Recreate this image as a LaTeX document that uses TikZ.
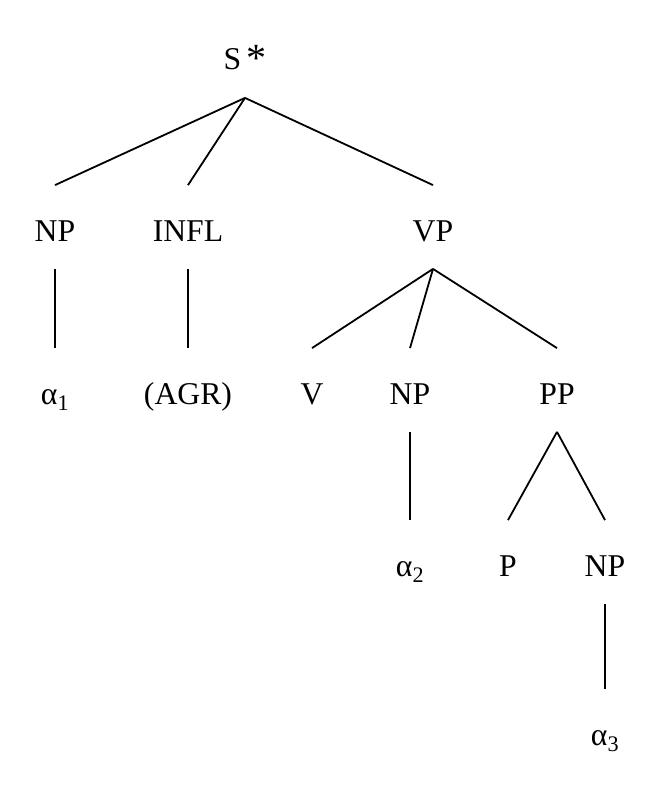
\documentclass[tikz,border=0pt]{standalone}
\usepackage{fontspec}
\setmainfont{Liberation Serif}
\usetikzlibrary{positioning}
\tikzset{cat/.style={anchor=base,inner sep=0pt,text height=55pt,text depth=27pt,
    font=\fontsize{31.7}{38}\selectfont}}
\begin{document}
\begin{tikzpicture}[x=1pt,y=-1pt,line width=1.8pt]
      \useasboundingbox (0,0) rectangle (661,786);
      % nodes, row by row
      \node[cat] (S) at (245,70) {S\,\raisebox{-2pt}{\fontsize{40}{40}\selectfont *}};
      \node[cat] (NPa) at (55,241) {NP};
      \node[cat] (INFL) at (188,241) {INFL};
      \node[cat] (VP) at (433,241) {VP};
      \node[cat] (aa) at (55,404) {α\textsubscript{1}};
      \node[cat] (AGR) at (188,404) {(AGR)};
      \node[cat] (V) at (312,404) {V};
      \node[cat] (NPb) at (410,404) {NP};
      \node[cat] (PP) at (557,404) {PP};
      \node[cat] (ab) at (410,576) {α\textsubscript{2}};
      \node[cat] (P) at (508,576) {P};
      \node[cat] (NPc) at (605,576) {NP};
      \node[cat] (ac) at (605,745) {α\textsubscript{3}};
      %
      \foreach \A/\B in {S/NPa,S/INFL,S/VP,NPa/aa,INFL/AGR,VP/V,VP/NPb,VP/PP,%
          NPb/ab,PP/P,PP/NPc,NPc/ac} {%
        \draw (\A.south) -- (\B.north);
      }
    \end{tikzpicture}
\end{document}
